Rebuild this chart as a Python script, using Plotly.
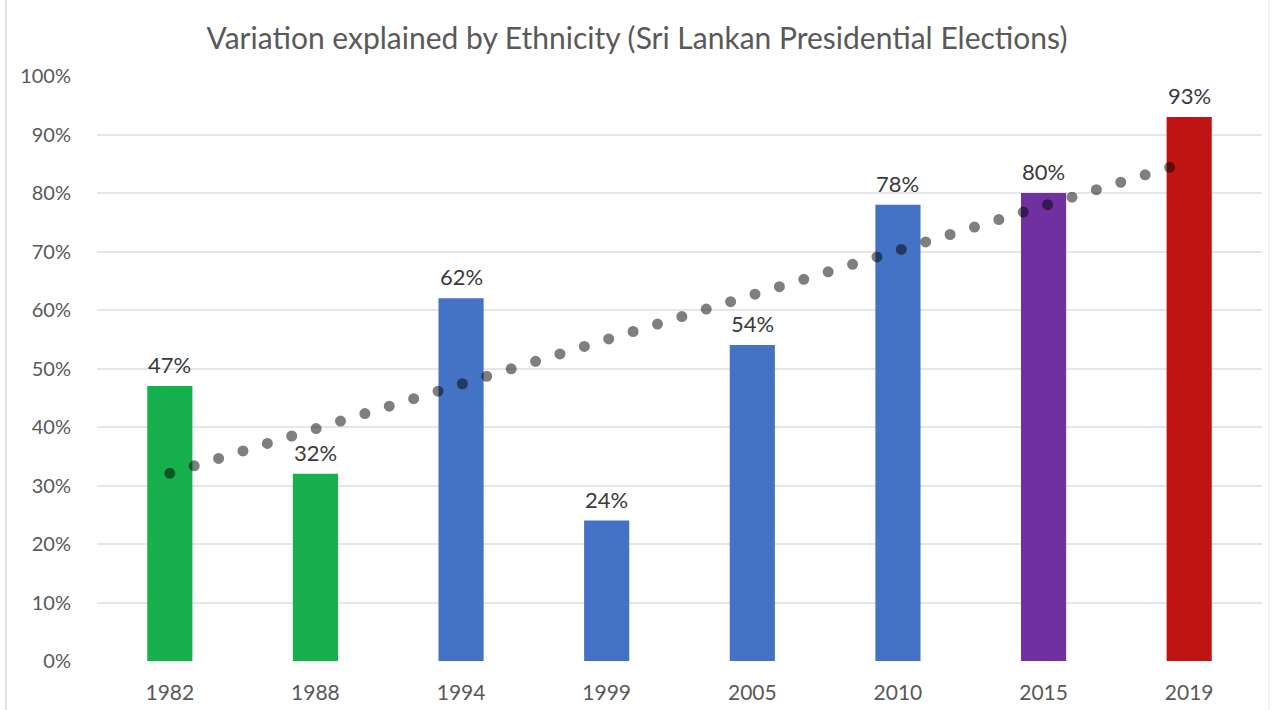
import numpy as np
import plotly.graph_objects as go

# Election years and share of vote variation explained by ethnicity
years = ["1982", "1988", "1994", "1999", "2005", "2010", "2015", "2019"]
explained_pct = [47, 32, 62, 24, 54, 78, 80, 93]
bar_colors = ["#17B04E", "#17B04E", "#4472C4", "#4472C4",
              "#4472C4", "#4472C4", "#7030A0", "#C01414"]
y_ticks = [0, 10, 20, 30, 40, 50, 60, 70, 80, 90, 100]

values = np.array(explained_pct, dtype=float) / 100.0

# Linear least-squares trend across the elections
idx = np.arange(len(years))
slope, intercept = np.polyfit(idx, values, 1)
trend = slope * idx + intercept

FONT = "Lato, 'Open Sans', sans-serif"

fig = go.Figure()
fig.add_trace(go.Bar(
    x=years, y=values,
    marker=dict(color=bar_colors, line=dict(width=0)),
    showlegend=False,
    hoverinfo="skip",
))
fig.add_trace(go.Scatter(
    x=years, y=trend,
    mode="lines",
    line=dict(color="rgba(0,0,0,0.5)", width=11, dash="11px,14.5px"),
    showlegend=False,
    hoverinfo="skip",
))

# Value labels above each bar (category axis positions are indices)
for i, (v, pct) in enumerate(zip(values, explained_pct)):
    fig.add_annotation(
        x=i, y=v, text=f"{pct}%",
        showarrow=False, yanchor="bottom", yshift=6,
        font=dict(family=FONT, size=22, color="#3A3A3A"),
    )

plot_left, plot_right = 97, 1262
plot_w = plot_right - plot_left

def px_to_paper(px):
    return (px - plot_left) / plot_w

fig.update_layout(
    width=1274, height=710,
    margin=dict(l=plot_left, r=1274 - plot_right, t=76, b=49),
    paper_bgcolor="white", plot_bgcolor="white",
    bargap=0.69,
    title=dict(
        text="Variation explained by Ethnicity (Sri Lankan Presidential Elections)",
        x=0.5, xref="container", y=1 - 38 / 710, yref="container",
        xanchor="center", yanchor="middle",
        font=dict(family=FONT, size=30, color="#595959"),
    ),
    xaxis=dict(
        type="category",
        range=[-0.5, len(years) - 0.5],
        automargin=False,
        showgrid=False, zeroline=False, showline=False,
        ticks="", ticklabelstandoff=17,
        tickfont=dict(family=FONT, size=21, color="#595959"),
    ),
    yaxis=dict(
        range=[0, 1],
        automargin=False,
        tickvals=[t / 100 for t in y_ticks],
        ticktext=[f"{t}%" for t in y_ticks],
        showgrid=True, gridcolor="#E6E6E6", gridwidth=2,
        zeroline=False, showline=False,
        ticks="", ticklabelstandoff=25,
        tickfont=dict(family=FONT, size=20, color="#595959"),
    ),
    shapes=[
        dict(type="line", xref="paper", yref="paper",
             x0=px_to_paper(6), x1=px_to_paper(6), y0=-0.1, y1=1.2,
             line=dict(color="#D9D9D9", width=1.5)),
        dict(type="line", xref="paper", yref="paper",
             x0=px_to_paper(1269), x1=px_to_paper(1269), y0=-0.1, y1=1.2,
             line=dict(color="#EDEDED", width=1.5)),
    ],
)

# Round dots for the trend line
post = """
var gd = document.getElementById('{plot_id}');
function roundDots() {
  gd.querySelectorAll('.scatterlayer .trace path.js-line').forEach(function (p) {
    p.style.strokeLinecap = 'round';
    p.style.strokeDasharray = '0 25.5';
  });
}
roundDots();
gd.on('plotly_afterplot', roundDots);
"""

fig.write_html("out.html", post_script=post)
